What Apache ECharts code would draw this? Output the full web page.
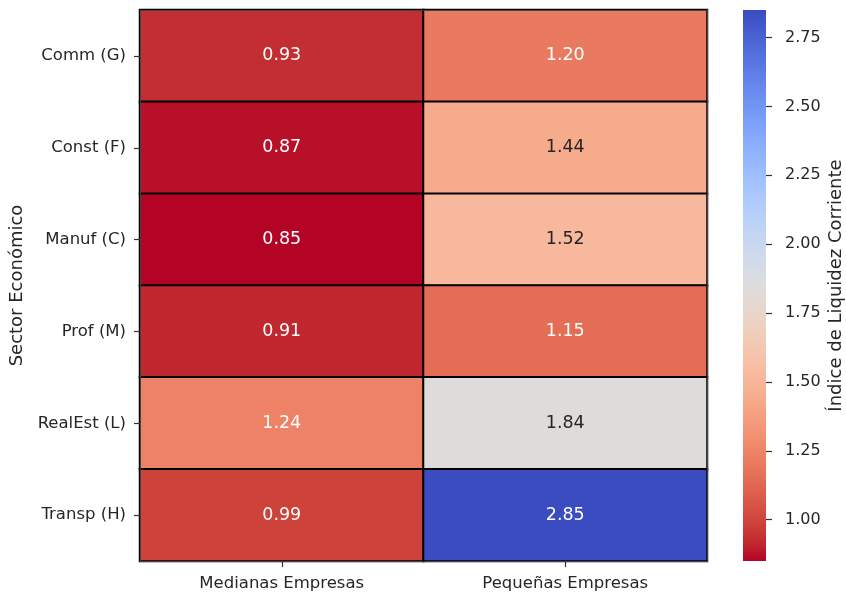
<!DOCTYPE html>
<html>
<head>
<meta charset="utf-8">
<script src="https://cdn.jsdelivr.net/npm/echarts@6/dist/echarts.min.js"></script>
<style>
  html, body { margin: 0; padding: 0; background: #fff; }
  #chart { width: 846px; height: 596px; }
</style>
</head>
<body>
<div id="chart"></div>
<script>
// Sectors (rows, top to bottom) and company sizes (columns)
const sectors = ['Comm (G)', 'Const (F)', 'Manuf (C)', 'Prof (M)', 'RealEst (L)', 'Transp (H)'];
const sizes = ['Medianas Empresas', 'Pequeñas Empresas'];

// Current liquidity ratio per sector
const medianas = [0.93, 0.87, 0.85, 0.91, 1.24, 0.99];
const pequenas = [1.20, 1.44, 1.52, 1.15, 1.84, 2.85];

// Colour scale range and colour bar ticks
const scaleMin = 0.85;
const scaleMax = 2.85;
const cbTicks = [1.00, 1.25, 1.50, 1.75, 2.00, 2.25, 2.50, 2.75];

// Diverging red-grey-blue palette, low (red) to high (blue), 33 evenly spaced stops
const palette = [
  '#b40426', '#c0282f', '#cb3e38', '#d55042', '#de604d', '#e57058', '#ec7f63', '#f18d6f',
  '#f49a7b', '#f7a687', '#f7b194', '#f7bba0', '#f5c4ad', '#f1ccb8', '#ecd3c5', '#e5d8d1',
  '#dddddd', '#d5dbe6', '#ccd9ee', '#c2d5f4', '#b8d0f9', '#aec9fd', '#a3c2ff', '#98b9ff',
  '#8db0fe', '#82a5fb', '#779af7', '#6c8ef1', '#6282ea', '#5775e1', '#4d68d7', '#445acc',
  '#3b4cc0'
];

function hexToRgb(h) {
  return [parseInt(h.slice(1, 3), 16), parseInt(h.slice(3, 5), 16), parseInt(h.slice(5, 7), 16)];
}
function colorFor(v) {
  const t = Math.min(1, Math.max(0, (v - scaleMin) / (scaleMax - scaleMin))) * (palette.length - 1);
  const i = Math.min(palette.length - 2, Math.floor(t));
  const f = t - i;
  const a = hexToRgb(palette[i]), b = hexToRgb(palette[i + 1]);
  return a.map((c, k) => c + (b[k] - c) * f);
}
function luminance(rgb) {
  const lin = rgb.map(c => {
    c = c / 255;
    return c <= 0.03928 ? c / 12.92 : Math.pow((c + 0.055) / 1.055, 2.4);
  });
  return 0.2126 * lin[0] + 0.7152 * lin[1] + 0.0722 * lin[2];
}

const cells = [];
[medianas, pequenas].forEach((col, x) => {
  col.forEach((v, y) => {
    const dark = luminance(colorFor(v)) > 0.408;
    cells.push({ value: [x, y, v], label: { color: dark ? '#262626' : '#ffffff' } });
  });
});

const textColor = '#262626';
const font = 'DejaVu Sans';
const tickFont = 16.5;
const nameFont = 18;

const chart = echarts.init(document.getElementById('chart'), null, { renderer: 'canvas' });
chart.setOption({
  animation: false,
  backgroundColor: '#ffffff',
  textStyle: { fontFamily: font },
  grid: [
    { left: 140, top: 10, width: 567, height: 551 },
    { left: 743, top: 10, width: 27, height: 551 }
  ],
  xAxis: [
    {
      gridIndex: 0, type: 'category', data: sizes, position: 'bottom', z: 5,
      axisLine: { show: true, lineStyle: { color: '#444', width: 1 } },
      axisTick: { show: true, alignWithLabel: true, length: 6, lineStyle: { color: '#333', width: 1.2 } },
      axisLabel: { fontSize: tickFont, color: textColor, margin: 14, fontFamily: font },
      splitLine: { show: false }
    },
    {
      gridIndex: 0, type: 'category', data: sizes, position: 'top', z: 5,
      axisLine: { show: true, lineStyle: { color: '#444', width: 1 } },
      axisTick: { show: false }, axisLabel: { show: false }
    },
    { gridIndex: 1, type: 'category', data: ['cb'], show: false }
  ],
  yAxis: [
    {
      gridIndex: 0, type: 'category', data: sectors, inverse: true, position: 'left', z: 5,
      axisLine: { show: true, lineStyle: { color: '#444', width: 1 } },
      axisTick: { show: true, alignWithLabel: true, length: 6, lineStyle: { color: '#333', width: 1.2 } },
      axisLabel: { fontSize: tickFont, color: textColor, margin: 14, fontFamily: font },
      name: 'Sector Económico', nameLocation: 'middle', nameGap: 113, nameRotate: 90,
      nameTextStyle: { fontSize: nameFont, color: textColor, fontFamily: font },
      splitLine: { show: false }
    },
    {
      gridIndex: 0, type: 'category', data: sectors, inverse: true, position: 'right', z: 5,
      axisLine: { show: true, lineStyle: { color: '#444', width: 1 } },
      axisTick: { show: false }, axisLabel: { show: false }
    },
    {
      gridIndex: 1, type: 'value', min: scaleMin, max: scaleMax, position: 'right',
      axisLine: { show: false },
      axisTick: { show: true, length: 6, customValues: cbTicks, lineStyle: { color: '#333', width: 1.2 } },
      axisLabel: {
        fontSize: 16, color: textColor, margin: 19, fontFamily: font,
        customValues: cbTicks, formatter: v => v.toFixed(2)
      },
      splitLine: { show: false },
      name: 'Índice de Liquidez Corriente', nameLocation: 'middle', nameGap: 61, nameRotate: 90,
      nameTextStyle: { fontSize: nameFont, color: textColor, fontFamily: font }
    }
  ],
  visualMap: {
    show: false, type: 'continuous', seriesIndex: 0, dimension: 2,
    min: scaleMin, max: scaleMax, inRange: { color: palette }
  },
  series: [
    {
      type: 'heatmap', xAxisIndex: 0, yAxisIndex: 0, data: cells,
      itemStyle: { borderColor: '#000000', borderWidth: 2 },
      label: { show: true, fontSize: 17.5, fontFamily: font, formatter: p => p.value[2].toFixed(2) },
      emphasis: { disabled: true }
    },
    {
      type: 'bar', xAxisIndex: 2, yAxisIndex: 2, stack: 'cb', barWidth: '100%',
      data: [scaleMin], itemStyle: { color: 'rgba(0,0,0,0)' }, silent: true
    },
    {
      type: 'bar', xAxisIndex: 2, yAxisIndex: 2, stack: 'cb', barWidth: '100%',
      data: [scaleMax - scaleMin], silent: true,
      itemStyle: {
        color: new echarts.graphic.LinearGradient(0, 0, 0, 1,
          palette.slice().reverse().map((c, i) => ({ offset: i / (palette.length - 1), color: c })))
      }
    }
  ]
});
</script>
</body>
</html>
